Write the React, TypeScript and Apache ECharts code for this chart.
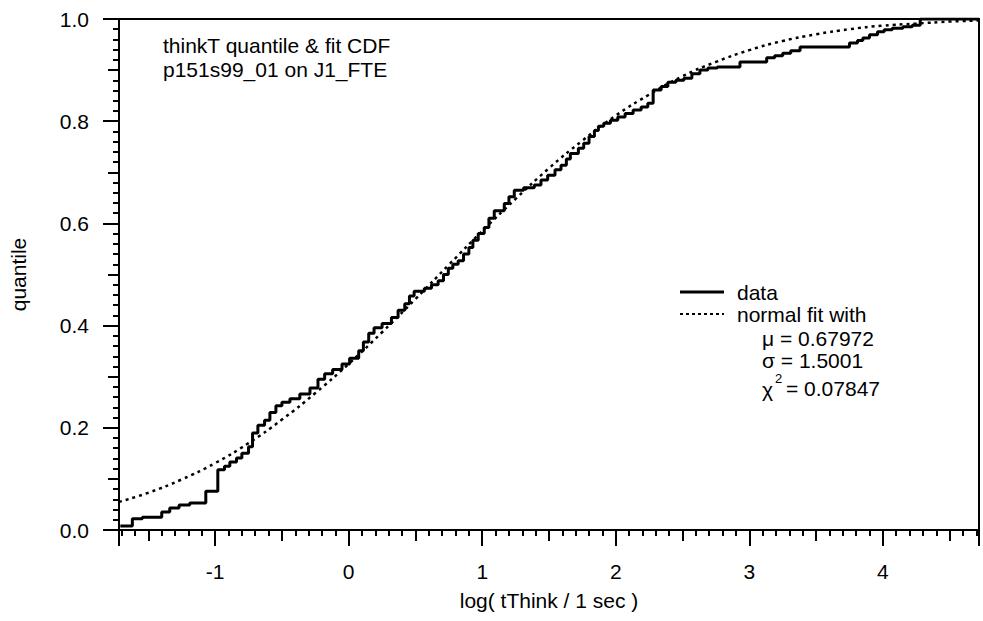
import React, { useEffect, useRef } from "react";
import * as echarts from "echarts";

// Empirical CDF (step) of log(tThink / 1 sec)
const dataX = [
  -1.71, -1.62, -1.545, -1.4, -1.34, -1.27, -1.19, -1.07, -0.98, -0.93, -0.89, -0.84, -0.8, -0.75,
  -0.72, -0.68, -0.63, -0.59, -0.545, -0.5, -0.44, -0.366, -0.29, -0.23, -0.18, -0.12, -0.05, 0.007,
  0.075, 0.11, 0.15, 0.19, 0.25, 0.32, 0.37, 0.42, 0.455, 0.49, 0.567, 0.62, 0.67, 0.71, 0.746,
  0.78, 0.82, 0.86, 0.9, 0.93, 0.97, 1.015, 1.05, 1.09, 1.165, 1.2, 1.24, 1.31, 1.39, 1.44, 1.49,
  1.545, 1.59, 1.63, 1.66, 1.72, 1.76, 1.8, 1.84, 1.87, 1.91, 1.96, 2.015, 2.07, 2.13, 2.19, 2.24,
  2.28, 2.34, 2.39, 2.45, 2.51, 2.57, 2.63, 2.69, 2.76, 2.93, 3.13, 3.19, 3.25, 3.31, 3.38, 3.75,
  3.81, 3.85, 3.9, 3.96, 4.01, 4.07, 4.15, 4.22, 4.28, 4.72,
];
const dataY = [
  0.008, 0.022, 0.025, 0.035, 0.043, 0.049, 0.053, 0.076, 0.118, 0.125, 0.133, 0.141, 0.15, 0.163,
  0.19, 0.205, 0.215, 0.23, 0.243, 0.25, 0.257, 0.266, 0.278, 0.295, 0.306, 0.314, 0.325, 0.336,
  0.351, 0.368, 0.385, 0.396, 0.404, 0.416, 0.43, 0.443, 0.458, 0.467, 0.473, 0.48, 0.488, 0.5,
  0.512, 0.52, 0.527, 0.54, 0.553, 0.567, 0.58, 0.592, 0.61, 0.625, 0.639, 0.652, 0.665, 0.67,
  0.675, 0.685, 0.694, 0.705, 0.714, 0.726, 0.737, 0.747, 0.757, 0.77, 0.782, 0.79, 0.796, 0.802,
  0.808, 0.815, 0.822, 0.828, 0.835, 0.861, 0.868, 0.876, 0.88, 0.884, 0.893, 0.9, 0.904, 0.906,
  0.916, 0.924, 0.928, 0.933, 0.938, 0.945, 0.953, 0.958, 0.963, 0.969, 0.975, 0.979, 0.982,
  0.985, 0.988, 1.0, 1.0,
];

// Normal fit CDF
const fitX = [
  -1.72, -1.5, -1.25, -1.0, -0.75, -0.5, -0.25, 0, 0.25, 0.5, 0.75, 1.0, 1.25, 1.5, 1.75, 2.0,
  2.25, 2.5, 2.75, 3.0, 3.25, 3.5, 3.75, 4.0, 4.25, 4.5, 4.72,
];
const fitY = [
  0.055, 0.073, 0.099, 0.131, 0.17, 0.216, 0.268, 0.325, 0.387, 0.452, 0.519, 0.585, 0.648, 0.708,
  0.762, 0.811, 0.852, 0.888, 0.916, 0.939, 0.957, 0.97, 0.98, 0.987, 0.991, 0.995, 0.997,
];

const titleLines = ["thinkT quantile & fit CDF", "p151s99_01 on J1_FTE"];
const legendLines = ["data", "normal fit with", "\u03bc = 0.67972", "\u03c3 = 1.5001"];
const chiText = ["\u03c7", "2", "= 0.07847"];

const FONT = "'Liberation Sans', Arial, Helvetica, sans-serif";

export default function App() {
  const ref = useRef<HTMLDivElement>(null);
  useEffect(() => {
    if (!ref.current) return;
    const chart = echarts.init(ref.current, undefined, { renderer: "svg" });
    const black = "#000";
    const txt = (text: string, x: number, y: number, size = 21, extra: any = {}) => ({
      type: "text",
      x,
      y,
      style: { text, fill: black, font: `${size}px ${FONT}`, textVerticalAlign: "middle", ...extra },
      z: 10,
    });
    const option: any = {
      animation: false,
      backgroundColor: "#fff",
      grid: {
        left: 117,
        right: 4,
        top: 19,
        bottom: 91,
        show: true,
        borderColor: black,
        borderWidth: 2,
        backgroundColor: "transparent",
      },
      xAxis: [
        {
          type: "value",
          position: "bottom",
          min: -1.72,
          max: 4.72,
          minInterval: 1,
          maxInterval: 1,
          splitNumber: 6,
          axisLine: { show: true, onZero: false, lineStyle: { color: black, width: 2 } },
          axisTick: { show: true, inside: false, length: 16, lineStyle: { color: black, width: 2 } },
          minorTick: { show: true, splitNumber: 10, length: 6, lineStyle: { color: black, width: 2 } },
          splitLine: { show: false },
          axisLabel: {
            color: black,
            fontSize: 21,
            fontFamily: FONT,
            margin: 31,
            showMinLabel: false,
            showMaxLabel: false,
          },
          name: "log( tThink / 1 sec )",
          nameLocation: "middle",
          nameGap: 60,
          nameTextStyle: { color: black, fontSize: 21, fontFamily: FONT },
        },
        {
          type: "value",
          position: "bottom",
          min: -1.72,
          max: 4.72,
          minInterval: 0.5,
          maxInterval: 0.5,
          splitNumber: 13,
          axisLine: { show: false, onZero: false },
          axisTick: { show: true, inside: false, length: 11, lineStyle: { color: black, width: 2 } },
          axisLabel: { show: false },
          splitLine: { show: false },
        },
      ],
      yAxis: [
        {
          type: "value",
          position: "left",
          min: 0,
          max: 1,
          interval: 0.2,
          axisLine: { show: true, onZero: false, lineStyle: { color: black, width: 2 } },
          axisTick: { show: true, inside: false, length: 16, lineStyle: { color: black, width: 2 } },
          minorTick: { show: true, splitNumber: 10, length: 6, lineStyle: { color: black, width: 2 } },
          splitLine: { show: false },
          axisLabel: {
            color: black,
            fontSize: 21,
            fontFamily: FONT,
            margin: 30,
            formatter: (v: number) => v.toFixed(1),
          },
          name: "quantile",
          nameLocation: "middle",
          nameGap: 90,
          nameTextStyle: { color: black, fontSize: 21, fontFamily: FONT },
        },
        {
          type: "value",
          position: "left",
          min: 0,
          max: 1,
          interval: 0.1,
          axisLine: { show: false, onZero: false },
          axisTick: { show: true, inside: false, length: 11, lineStyle: { color: black, width: 2 } },
          axisLabel: { show: false },
          splitLine: { show: false },
        },
      ],
      series: [
        {
          name: "normal fit",
          type: "line",
          xAxisIndex: 0,
          yAxisIndex: 0,
          smooth: true,
          showSymbol: false,
          symbol: "none",
          lineStyle: { color: black, width: 2.5, type: [3, 4] },
          data: fitX.map((x, i) => [x, fitY[i]]),
          z: 3,
        },
        {
          name: "data",
          type: "line",
          xAxisIndex: 0,
          yAxisIndex: 0,
          step: "end",
          showSymbol: false,
          symbol: "none",
          lineStyle: { color: black, width: 3 },
          data: dataX.map((x, i) => [x, dataY[i]]),
          z: 4,
        },
      ],
      graphic: [
        txt(titleLines[0], 163, 45),
        txt(titleLines[1], 163, 69),
        {
          type: "line",
          shape: { x1: 680, y1: 292, x2: 724, y2: 292 },
          style: { stroke: black, lineWidth: 3 },
        },
        txt(legendLines[0], 737, 292),
        {
          type: "line",
          shape: { x1: 680, y1: 314, x2: 724, y2: 314 },
          style: { stroke: black, lineWidth: 2, lineDash: [3, 3] },
        },
        txt(legendLines[1], 737, 314),
        txt(legendLines[2], 762, 338),
        txt(legendLines[3], 762, 360),
        txt(chiText[0], 762, 389),
        txt(chiText[1], 775, 378, 13),
        txt(chiText[2], 786, 388),
      ],
    };
    chart.setOption(option);
    return () => chart.dispose();
  }, []);
  return (
    <div
      ref={ref}
      style={{ position: "fixed", left: 0, top: 0, width: 983, height: 621, background: "#fff" }}
    />
  );
}
